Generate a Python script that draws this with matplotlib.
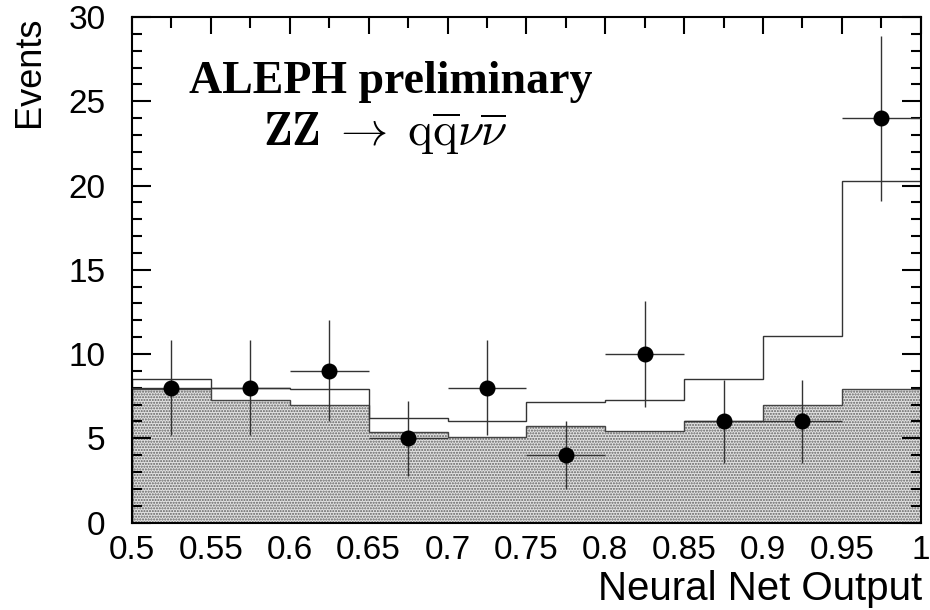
import matplotlib
matplotlib.use("Agg")
import matplotlib.pyplot as plt
import numpy as np

bin_edges = [0.5, 0.55, 0.6, 0.65, 0.7, 0.75, 0.8, 0.85, 0.9, 0.95, 1.0]
background = [7.9, 7.25, 7.0, 5.4, 5.05, 5.7, 5.45, 6.0, 7.0, 7.9]
total_mc = [8.5, 8.0, 7.9, 6.2, 6.05, 7.15, 7.25, 8.5, 11.1, 20.3]
data_x = [0.525, 0.575, 0.625, 0.675, 0.725, 0.775, 0.825, 0.875, 0.925, 0.975]
data_y = [8, 8, 9, 5, 8, 4, 10, 6, 6, 24]
data_err = [2.83, 2.83, 3.0, 2.24, 2.83, 2.0, 3.16, 2.45, 2.45, 4.9]
x_halfwidth = [0.025] * 10
xtick_vals = [0.5, 0.55, 0.6, 0.65, 0.7, 0.75, 0.8, 0.85, 0.9, 0.95, 1.0]
xtick_labels = ["0.5", "0.55", "0.6", "0.65", "0.7", "0.75", "0.8", "0.85", "0.9", "0.95", "1"]
ytick_vals = [0, 5, 10, 15, 20, 25, 30]

plt.rcParams['font.family'] = ['Liberation Sans', 'DejaVu Sans']
plt.rcParams['hatch.linewidth'] = 1.0
plt.rcParams['mathtext.fontset'] = 'cm'

fig = plt.figure(figsize=(9.3, 6.1), dpi=100)
ax = fig.add_axes([0.142, 0.1434, 0.848, 0.8286])

# shaded background (stippled)
widths = np.diff(bin_edges)
ax.bar(bin_edges[:-1], background, width=widths, align='edge', facecolor='#e2e2e2',
       edgecolor='#606060', hatch='......', linewidth=0, zorder=1)
ax.stairs(background, bin_edges, fill=False, edgecolor='#444444', linewidth=1.0, zorder=2)
# total expectation
ax.stairs(total_mc, bin_edges, fill=False, edgecolor='#333333', linewidth=1.0, zorder=2)

# data
ax.errorbar(data_x, data_y, yerr=data_err, xerr=x_halfwidth, fmt='o', color='black',
            ecolor='#333333', elinewidth=1.0, markersize=10.5, capsize=0, zorder=4)

ax.set_xlim(0.5, 1.0)
ax.set_ylim(0, 30)
ax.set_xticks(xtick_vals)
ax.set_xticklabels(xtick_labels)
ax.set_yticks(ytick_vals)
ax.set_xticks(np.arange(0.525, 1.0, 0.05), minor=True)
ax.set_yticks(np.arange(0, 31, 1), minor=True)
ax.tick_params(axis='both', which='both', direction='in', top=True, right=True,
               bottom=False, labelsize=24, width=1.5)
ax.tick_params(axis='y', which='both', pad=19)
ax.tick_params(axis='x', which='both', pad=9)
ax.tick_params(axis='y', which='major', length=14)
ax.tick_params(axis='y', which='minor', length=7)
ax.tick_params(axis='x', which='minor', length=8)
ax.tick_params(axis='x', which='major', length=12)
for s in ax.spines.values():
    s.set_linewidth(1.5)

ax.set_xlabel('Neural Net Output', fontsize=29, loc='right')
ax.xaxis.set_label_coords(1.002, -0.094)
ax.set_ylabel('Events', fontsize=26, loc='top')
ax.yaxis.set_label_coords(-0.108, 1.0)

ax.text(0.664, 25.5, 'ALEPH preliminary', fontsize=33, fontweight='bold',
        family='Liberation Serif', ha='center', va='baseline', zorder=5)
ax.text(0.6603, 22.3, r'$\mathbf{ZZ}\;\rightarrow\;\mathrm{q}\overline{\mathrm{q}}\nu\overline{\nu}$',
        fontsize=34, ha='center', va='baseline', zorder=5)

fig.savefig('out.png', dpi=100)
